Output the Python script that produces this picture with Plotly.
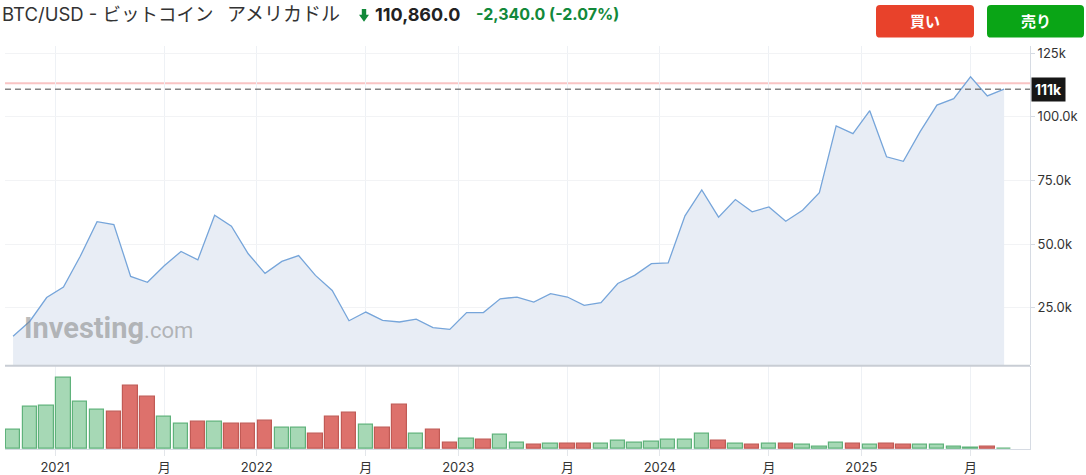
import plotly.graph_objects as go

W, H = 1086, 475

# ---------------- data ----------------
months = [f"{y}-{m:02d}" for y, m in
          [(2020, 10), (2020, 11), (2020, 12)] +
          [(y, m) for y in (2021, 2022, 2023, 2024) for m in range(1, 13)] +
          [(2025, m) for m in range(1, 10)]]

close_k = [13.8, 19.7, 29.0,
           33.1, 45.2, 58.8, 57.7, 37.3, 35.0, 41.5, 47.1, 43.8, 61.3, 57.0, 46.2,
           38.5, 43.2, 45.5, 37.7, 31.8, 19.9, 23.3, 20.0, 19.4, 20.5, 17.2, 16.5,
           23.1, 23.1, 28.5, 29.2, 27.2, 30.5, 29.2, 25.9, 27.0, 34.5, 37.7, 42.3,
           42.6, 61.1, 71.3, 60.6, 67.5, 62.7, 64.6, 59.0, 63.3, 70.2, 96.4, 93.4,
           102.4, 84.3, 82.5, 94.2, 104.6, 107.1, 115.7, 108.2, 110.86]

volume = [56, 122, 126, 208, 138, 114, 108, 185, 152, 93, 74, 79, 79, 75, 75,
          82, 63, 63, 45, 93, 105, 70, 63, 130, 45, 56, 19, 30, 27, 41, 18, 12,
          15, 15, 15, 15, 23, 18, 22, 26, 26, 45, 23, 15, 11, 15, 15, 11, 7, 18,
          15, 11, 15, 11, 11, 11, 7, 4, 7, 2]

direction = list("GGGGGGRRRGGRGRRRGGRRRGRRGRRGRGGR"
                 "GRRGGGGGGGRGRGRGGGRGRRGGGGRG")

tick_pos = [2.5, 9, 14.5, 21, 26.5, 33, 38.5, 45, 50.5, 57]
tick_text = ["2021", "月", "2022", "月", "2023", "月", "2024", "月", "2025", "月"]

y_ticks = [25000, 50000, 75000, 100000, 125000]
y_tick_text = ["25.0k", "50.0k", "75.0k", "100.0k", "125k"]

last_price = 110860.0
prev_close = 113200.0

# ---------------- figure ----------------
x = list(range(len(months)))
close = [c * 1000 for c in close_k]

GREEN_FILL, GREEN_LINE = "#a6d8b5", "#5fb27b"
RED_FILL, RED_LINE = "#dd716c", "#c15a55"
bar_fill = [GREEN_FILL if d == "G" else RED_FILL for d in direction]
bar_line = [GREEN_LINE if d == "G" else RED_LINE for d in direction]

FONT = "Inter, Noto Sans CJK JP, sans-serif"

fig = go.Figure()
fig.add_trace(go.Scatter(
    x=x, y=close, mode="lines", fill="tozeroy",
    line=dict(color="#76a5da", width=1.3),
    fillcolor="#e8edf5", hoverinfo="skip", customdata=months,
    xaxis="x", yaxis="y"))
fig.add_trace(go.Bar(
    x=x, y=volume, width=0.86,
    marker=dict(color=bar_fill, line=dict(color=bar_line, width=1.2)),
    hoverinfo="skip", xaxis="x2", yaxis="y2"))

px_x = lambda p: p / W
px_y = lambda p: 1 - p / H

x_dom = [px_x(5), px_x(1030)]
x_rng = [-0.48, 60.54]
grid = "#eef1f5"

fig.update_layout(
    width=W, height=H, margin=dict(l=0, r=0, t=0, b=0),
    paper_bgcolor="white", plot_bgcolor="white", showlegend=False,
    bargap=0,
    font=dict(family=FONT, color="#333"),
    xaxis=dict(domain=x_dom, range=x_rng, anchor="y", tickvals=tick_pos,
               showticklabels=False, showgrid=True, gridcolor=grid,
               zeroline=False, ticks=""),
    yaxis=dict(domain=[px_y(368), px_y(45)], range=[2450, 128000], side="right",
               anchor="x", tickvals=y_ticks, ticktext=y_tick_text,
               showgrid=True, gridcolor="#f2f3f5", zeroline=False,
               ticks="outside", ticklen=4, tickcolor="#d6dbe3",
               showline=True, linecolor="#d6dbe3", linewidth=1,
               tickfont=dict(size=13, color="#333")),
    xaxis2=dict(domain=x_dom, range=x_rng, anchor="y2", tickvals=tick_pos,
                ticktext=tick_text, showgrid=True, gridcolor=grid,
                zeroline=False, ticks="outside", ticklen=6,
                tickcolor="#e3e6ea", showline=True, linecolor="#d6dbe3",
                tickfont=dict(size=13, color="#333")),
    yaxis2=dict(domain=[px_y(452.8), px_y(368.7)], range=[0, 243],
                anchor="x2", side="right", showticklabels=False,
                showgrid=False, zeroline=False, showline=True,
                linecolor="#d6dbe3"),
)

shapes = []
shapes.append(dict(type="line", xref="paper", yref="y", x0=x_dom[0], x1=x_dom[1],
                   y0=prev_close, y1=prev_close,
                   line=dict(color="#f9c4c4", width=2), layer="below"))
shapes.append(dict(type="line", xref="paper", yref="y", x0=x_dom[0], x1=x_dom[1],
                   y0=last_price, y1=last_price,
                   line=dict(color="#444", width=1, dash="6px,4px")))
shapes.append(dict(type="line", xref="paper", yref="paper", x0=x_dom[0], x1=x_dom[1],
                   y0=px_y(368.7), y1=px_y(368.7),
                   line=dict(color="#c8cdd4", width=2)))


def rrect(x0, y0, x1, y1, r=4):
    X0, X1 = px_x(x0), px_x(x1)
    Y0, Y1 = px_y(y0), px_y(y1)
    rx, ry = r / W, r / H
    return (f"M {X0+rx},{Y0} L {X1-rx},{Y0} Q {X1},{Y0} {X1},{Y0-ry} "
            f"L {X1},{Y1+ry} Q {X1},{Y1} {X1-rx},{Y1} L {X0+rx},{Y1} "
            f"Q {X0},{Y1} {X0},{Y1+ry} L {X0},{Y0-ry} Q {X0},{Y0} {X0+rx},{Y0} Z")


shapes.append(dict(type="path", xref="paper", yref="paper", path=rrect(876, 4, 974, 37),
                   fillcolor="#e8422b", line=dict(width=0)))
shapes.append(dict(type="path", xref="paper", yref="paper", path=rrect(987, 4, 1084, 37),
                   fillcolor="#0aa516", line=dict(width=0)))
ax0, ax1, am = 359, 369, 364
arrow = (f"M {px_x(am-2.2)},{px_y(8)} L {px_x(am+2.2)},{px_y(8)} "
         f"L {px_x(am+2.2)},{px_y(14)} L {px_x(ax1)},{px_y(14)} "
         f"L {px_x(am)},{px_y(21)} L {px_x(ax0)},{px_y(14)} "
         f"L {px_x(am-2.2)},{px_y(14)} Z")
shapes.append(dict(type="path", xref="paper", yref="paper", path=arrow,
                   fillcolor="#12893a", line=dict(width=0)))
fig.update_layout(shapes=shapes)

ann = []
hdr_y = px_y(13.5)


def hdr(text, xpx, size, color, anchor="left"):
    ann.append(dict(text=text, x=px_x(xpx), y=hdr_y, xref="paper", yref="paper",
                    xanchor=anchor, yanchor="middle", showarrow=False,
                    font=dict(size=size, color=color)))


hdr("BTC/USD - ビットコイン", 0, 18.5, "#333")
hdr("アメリカドル", 225, 19, "#333")
hdr("<b>110,860.0</b>", 373, 18, "#222")
hdr("<b>-2,340.0 (-2.07%)</b>", 474, 16, "#12893a")

ann.append(dict(text="<b>買い</b>", x=px_x(925), y=px_y(21),
                xref="paper", yref="paper", xanchor="center", yanchor="middle",
                showarrow=False, font=dict(size=15, color="white")))
ann.append(dict(text="<b>売り</b>", x=px_x(1035.5), y=px_y(21),
                xref="paper", yref="paper", xanchor="center", yanchor="middle",
                showarrow=False, font=dict(size=15, color="white")))
ann.append(dict(text="<b>111k</b>", x=px_x(1031), y=last_price,
                xref="paper", yref="y", xanchor="left", yanchor="middle",
                showarrow=False, bgcolor="#161616", borderpad=3,
                font=dict(size=14, color="white")))
ann.append(dict(text="<b>Investing</b><span style='font-size:22px'>.com</span>",
                x=px_x(22), y=px_y(330), xref="paper", yref="paper",
                xanchor="left", yanchor="middle", showarrow=False,
                font=dict(size=29, color="rgba(130,130,130,0.55)",
                          family="Roboto, Noto Sans, sans-serif")))
fig.update_layout(annotations=ann)

fig.write_html("out.html",
               config={"displayModeBar": False},
               post_script="document.body.style.margin='0px';"
                           "document.body.style.overflow='hidden';")
